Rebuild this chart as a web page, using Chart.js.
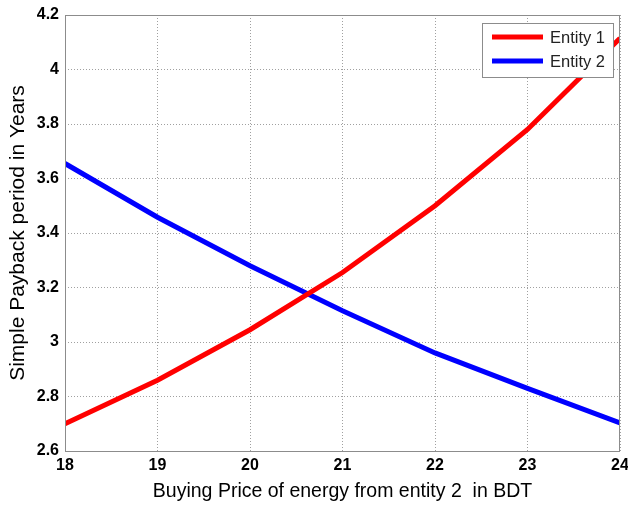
<!DOCTYPE html>
<html>
<head>
<meta charset="utf-8">
<script src="https://cdn.jsdelivr.net/npm/chart.js@4.4.1/dist/chart.umd.min.js"></script>
<style>
  html, body { margin: 0; padding: 0; background: #fff; }
  #wrap { width: 628px; height: 506px; }
</style>
</head>
<body>
<div id="wrap"><canvas id="grafico" width="628" height="506"></canvas></div>
<script>
// Dados
const precos = [18, 19, 20, 21, 22, 23, 24];
const entidade1 = [2.70, 2.86, 3.045, 3.255, 3.50, 3.78, 4.115];
const entidade2 = [3.655, 3.458, 3.28, 3.115, 2.96, 2.83, 2.703];
const rotulosSeries = ['Entity 1', 'Entity 2'];
const coresSeries = ['#ff0000', '#0000ff'];
const tituloX = 'Buying Price of energy from entity 2  in BDT';
const tituloY = 'Simple Payback period in Years';

const fonte = 'Arial, "Liberation Sans", sans-serif';

function pontos(valores) {
  return precos.map((x, i) => ({ x: x, y: valores[i] }));
}

// Moldura da área do gráfico (estilo MATLAB)
const moldura = {
  id: 'moldura',
  afterDatasetsDraw(chart) {
    const { ctx, chartArea: a } = chart;
    ctx.save();
    ctx.strokeStyle = '#8c8c8c';
    ctx.lineWidth = 1;
    ctx.strokeRect(a.left + 0.5, a.top + 0.5, a.right - a.left - 1, a.bottom - a.top);
    ctx.restore();
  }
};

// Legenda dentro da área do gráfico, com caixa
const legendaCaixa = {
  id: 'legendaCaixa',
  afterDraw(chart) {
    const { ctx, chartArea: a } = chart;
    const x0 = a.right - 138, y0 = a.top + 8, w = 131, h = 54;
    ctx.save();
    ctx.fillStyle = '#fff';
    ctx.fillRect(x0, y0, w, h);
    ctx.strokeStyle = '#8c8c8c';
    ctx.lineWidth = 1;
    ctx.strokeRect(x0 + 0.5, y0 + 0.5, w, h);
    ctx.font = '16.5px ' + fonte;
    ctx.textBaseline = 'middle';
    chart.data.datasets.forEach((ds, i) => {
      const yy = y0 + 14 + i * 24;
      ctx.strokeStyle = ds.borderColor;
      ctx.lineWidth = 5;
      ctx.beginPath();
      ctx.moveTo(x0 + 10, yy);
      ctx.lineTo(x0 + 61, yy);
      ctx.stroke();
      ctx.fillStyle = '#222';
      ctx.fillText(ds.label, x0 + 68, yy + 1);
    });
    ctx.restore();
  }
};

const grade = {
  color: '#a0a0a0',
  lineWidth: 1,
  drawTicks: false
};

new Chart(document.getElementById('grafico'), {
  type: 'line',
  data: {
    datasets: [
      {
        label: rotulosSeries[0],
        data: pontos(entidade1),
        borderColor: coresSeries[0],
        borderWidth: 5,
        pointRadius: 0,
        tension: 0,
        fill: false
      },
      {
        label: rotulosSeries[1],
        data: pontos(entidade2),
        borderColor: coresSeries[1],
        borderWidth: 5,
        pointRadius: 0,
        tension: 0,
        fill: false
      }
    ]
  },
  options: {
    responsive: false,
    devicePixelRatio: 1,
    animation: false,
    layout: { padding: { top: 15, right: 8, left: 0, bottom: 0 } },
    plugins: {
      legend: { display: false },
      tooltip: { enabled: false }
    },
    scales: {
      x: {
        type: 'linear',
        min: 18,
        max: 24,
        border: { display: false, dash: [1, 2] },
        grid: Object.assign({}, grade),
        ticks: {
          stepSize: 1,
          padding: 5,
          color: '#000',
          font: { family: fonte, size: 16, weight: 'bold' }
        },
        title: {
          display: true,
          text: tituloX,
          color: '#000',
          font: { family: fonte, size: 19.5 },
          padding: { top: 0, bottom: 3 }
        },
        afterFit(scale) {
          scale.height = 55;
          scale.paddingLeft = 0;
          scale.paddingRight = 0;
        }
      },
      y: {
        min: 2.6,
        max: 4.2,
        border: { display: false, dash: [1, 2] },
        grid: Object.assign({}, grade),
        ticks: {
          stepSize: 0.2,
          padding: 6,
          color: '#000',
          font: { family: fonte, size: 16, weight: 'bold' },
          callback: v => String(Number(v.toFixed(1)))
        },
        title: {
          display: true,
          text: tituloY,
          color: '#000',
          font: { family: fonte, size: 21 },
          padding: { top: 6, bottom: 0 }
        },
        afterFit(scale) {
          scale.width = 65;
          scale.paddingTop = 0;
          scale.paddingBottom = 0;
        }
      }
    }
  },
  plugins: [moldura, legendaCaixa]
});
</script>
</body>
</html>
